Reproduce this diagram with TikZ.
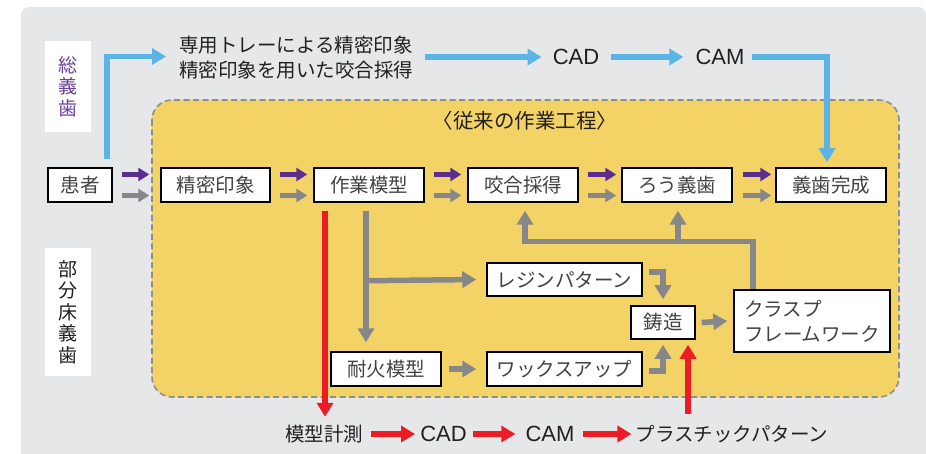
\documentclass[tikz,border=0pt]{standalone}
\usepackage{fontspec}
\setmainfont{Noto Sans CJK JP}
\newfontfamily\lat{Liberation Sans}
\usetikzlibrary{arrows.meta,calc}
\definecolor{bggray}{HTML}{E6E7E8}
\definecolor{yel}{HTML}{F3D366}
\definecolor{dashgray}{HTML}{8C8E90}
\definecolor{purp}{HTML}{5B2D8E}
\definecolor{purptext}{HTML}{6B3FA0}
\definecolor{garrow}{HTML}{858789}
\definecolor{blu}{HTML}{5AB4E5}
\definecolor{rd}{HTML}{ED1C24}
\definecolor{txt}{HTML}{231F20}
\tikzset{
  boxnode/.style={draw=black, line width=1.5pt, fill=white, text=txt!85!white,
    minimum height=34pt, inner sep=0pt, font=\fontsize{19.5}{24}\selectfont},
  lbl/.style={inner sep=0pt, text=txt, font=\fontsize{19.5}{25}\selectfont},
  latlbl/.style={inner sep=0pt, text=txt, font=\lat\fontsize{22}{26}\selectfont},
  bigarrow/.style={line width=5.5pt, -{Triangle[length=14pt,width=16pt]}},
  pairarrow/.style={line width=5pt, -{Triangle[length=11pt,width=13pt]}},
  grayarrow/.style={bigarrow, draw=garrow},
  bluearrow/.style={bigarrow, draw=blu},
  redarrow/.style={bigarrow, draw=rd},
  sidebox/.style={fill=white, inner sep=0pt, minimum width=46pt, align=center,
    font=\fontsize{19}{21.5}\selectfont}
}
\begin{document}
\begin{tikzpicture}[x=1pt,y=-1pt]
\useasboundingbox (0,0) rectangle (926,454);
% background
\fill[bggray, rounded corners=8pt] (21,7) rectangle (926,480);
% yellow region
\draw[fill=yel, draw=dashgray, line width=1.6pt, dash pattern=on 6pt off 3.5pt, rounded corners=20pt]
  (152,100) rectangle (899,397);
\node[lbl, font=\fontsize{20.5}{25}\selectfont] (title) at (525,121) {〈従来の作業工程〉};

% side labels
\node[sidebox, minimum height=91pt, text=purptext] (soushika) at (68,86.5) {総\\義\\歯};
\node[sidebox, minimum height=128pt, text=txt] (bubun) at (68,312) {部\\分\\床\\義\\歯};

% main row
\node[boxnode, minimum width=64pt] (kanja) at (80,185) {患者};
\node[boxnode, minimum width=109pt] (seimitsu) at (215.5,185) {精密印象};
\node[boxnode, minimum width=110pt] (sagyo) at (369,185) {作業模型};
\node[boxnode, minimum width=110pt] (kougou) at (523,185) {咬合採得};
\node[boxnode, minimum width=110pt] (rou) at (677,185) {ろう義歯};
\node[boxnode, minimum width=110pt] (kansei) at (831,185) {義歯完成};

% lower boxes
\node[boxnode, minimum width=155pt, minimum height=33pt] (resin) at (564.5,279.5) {レジンパターン};
\node[boxnode, minimum width=155pt] (wax) at (564.5,369) {ワックスアップ};
\node[boxnode, minimum width=110pt] (taika) at (386,369) {耐火模型};
\node[boxnode, minimum width=64pt, minimum height=33pt] (chuzo) at (663,322.5) {鋳造};
\node[boxnode, minimum width=156pt, minimum height=62pt, align=left,
      font=\fontsize{19.5}{25}\selectfont] (clasp) at (812,321) {クラスプ\\フレームワーク};

% top route
\node[lbl, align=left, anchor=west] (toptext) at (179,57.5) {専用トレーによる精密印象\\精密印象を用いた咬合採得};
\node[latlbl] (cad1) at (576,57) {CAD};
\node[latlbl] (cam1) at (720,57) {CAM};

% bottom route
\node[lbl] (mokei) at (324,434) {模型計測};
\node[latlbl] (cad2) at (443.5,434) {CAD};
\node[latlbl] (cam2) at (550,434) {CAM};
\node[lbl] (plastic) at (732,434) {プラスチックパターン};

% pair arrows
\foreach \a/\b/\s/\e in {kanja/seimitsu/9/11, seimitsu/sagyo/9/6, sagyo/kougou/9/6, kougou/rou/9/5, rou/kansei/10/4}{
  \draw[pairarrow, draw=purp] ($(\a.east)+(\s,-10.5)$) -- ($(\b.west)+(-\e,-10.5)$);
  \draw[pairarrow, draw=garrow] ($(\a.east)+(\s,10.5)$) -- ($(\b.west)+(-\e,10.5)$);
}

% blue route
\draw[bluearrow] ($(kanja.north)+(27,-8)$) |- ($(toptext.west)+(-13,-1)$);
\draw[bluearrow, shorten <=12pt, shorten >=11pt] (toptext.east |- cad1.west) -- (cad1.west);
\draw[bluearrow, shorten <=12pt, shorten >=12pt] (cad1.east) -- (cam1.west);
\draw[bluearrow] ($(cam1.east)+(7,0)$) -| ($(kansei.north)+(-4,-5)$);

% red route
\draw[redarrow] ($(sagyo.south)+(-44,8)$) -- ($(mokei.north)+(1,-8)$);
\draw[redarrow, shorten <=8pt, shorten >=5pt] (mokei.east) -- (cad2.west);
\draw[redarrow, shorten <=6pt, shorten >=10pt] (cad2.east) -- (cam2.west);
\draw[redarrow, shorten <=8pt, shorten >=4pt] (cam2.east) -- (plastic.west);
\draw[redarrow] ($(chuzo.south)+(25,74)$) -- ($(chuzo.south)+(25,5)$);

% gray routes
\draw[grayarrow] ($(sagyo.south)+(-3,8)$) -- ($(taika.north)+(-20,-9)$);
\draw[grayarrow] ($(sagyo.south)+(-3,78)$) -- ($(resin.west)+(-10,0)$);
\draw[grayarrow] ($(taika.east)+(7,0)$) -- ($(wax.west)+(-10,0)$);
\draw[grayarrow] ($(resin.east)+(6,-7.5)$) -| ($(chuzo.north)+(0,-6)$);
\draw[grayarrow] ($(wax.east)+(6,2)$) -| ($(chuzo.south)+(0,5)$);
\draw[grayarrow] ($(chuzo.east)+(6,0)$) -- ($(clasp.west)+(-6,0)$);
\draw[grayarrow] ($(clasp.north)+(-59,0)$) |- ($(kougou.south)+(2,39)$) -- ($(kougou.south)+(2,8)$);
\draw[grayarrow] ($(rou.south)+(1,39)$) -- ($(rou.south)+(1,8)$);
\end{tikzpicture}
\end{document}
